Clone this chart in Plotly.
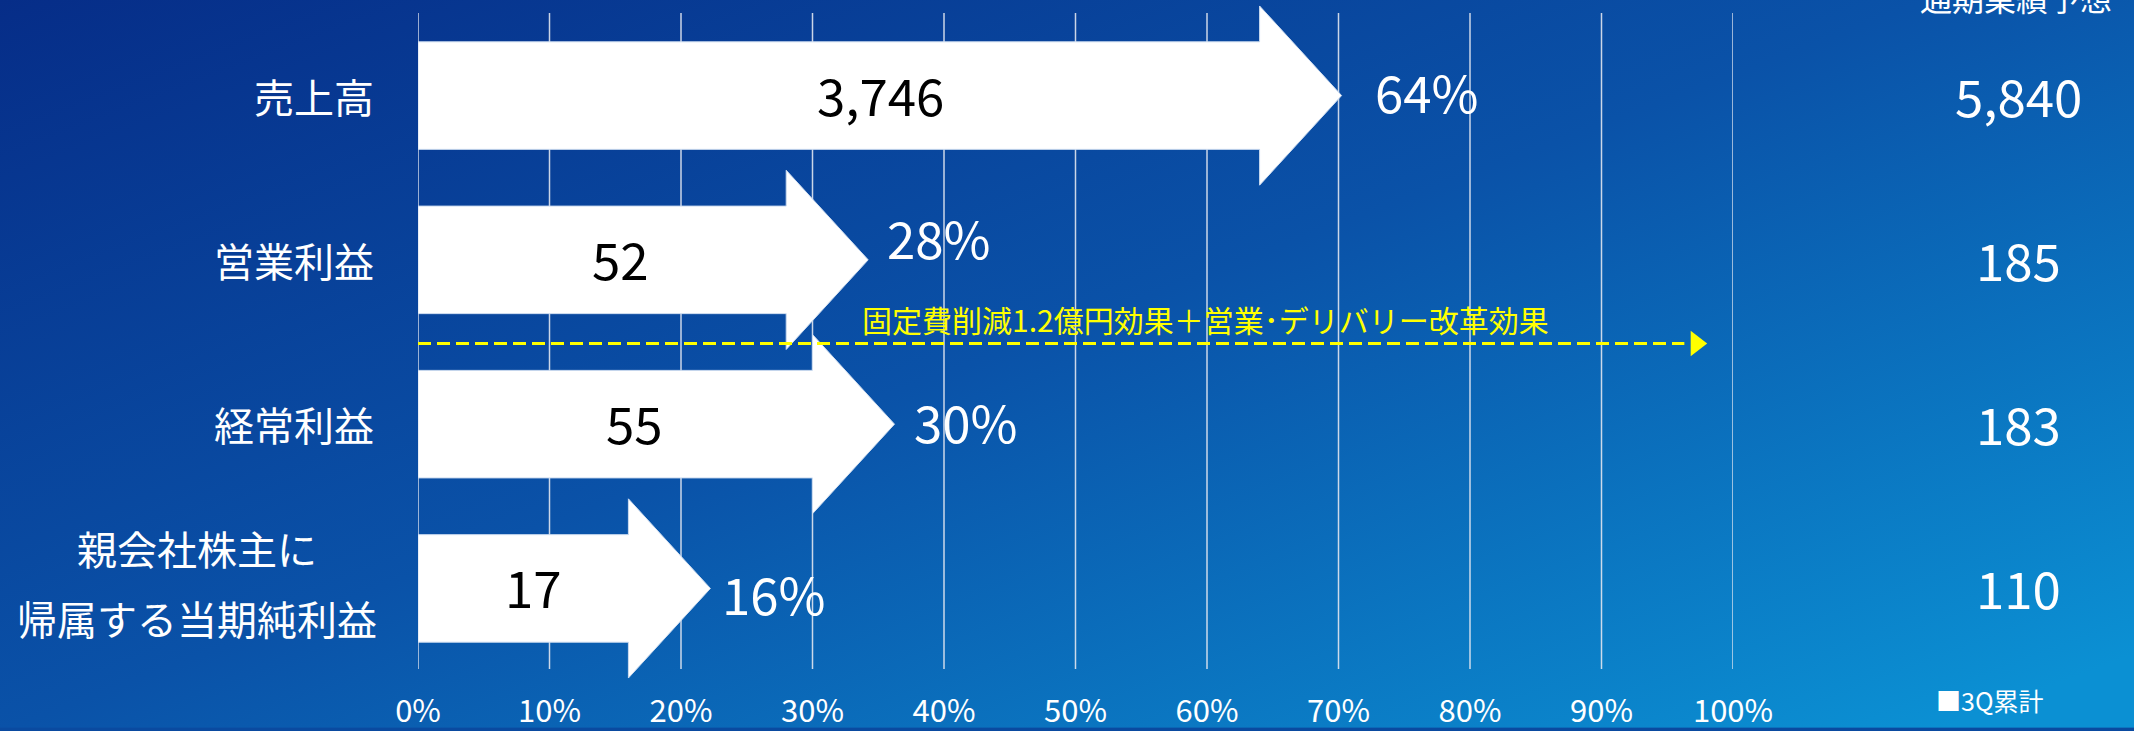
import base64
import plotly.graph_objects as go

# ---------------- data ----------------
categories = ["売上高", "営業利益", "経常利益", "親会社株主に<br>帰属する当期純利益"]
results_3q = ["3,746", "52", "55", "17"]          # 3Q累計 (百万円)
progress_pct = [64, 28, 30, 16]                    # 進捗率 (%)
forecast = ["5,840", "185", "183", "110"]          # 通期業績予想
tick_vals = [0, 10, 20, 30, 40, 50, 60, 70, 80, 90, 100]
tick_text = ["0%", "10%", "20%", "30%", "40%", "50%", "60%", "70%", "80%", "90%", "100%"]
note_text = "固定費削減1.2億円効果＋営業･デリバリー改革効果"
note_end_pct = 97.2
header_text = "通期業績予想"
legend_text = "■3Q累計"

# ---------------- layout constants ----------------
W, H = 2134, 731
ML, MR, MT, MB = 418, 401, 0, 40
PW = W - ML - MR
PH = H - MT - MB
ROW0 = 96.0      # px of first row centre
ROWS = 165.0     # px between rows
PX_PER_PCT = PW / 100.0

BODY_HALF = 54 / ROWS
HEAD_HALF = 90 / ROWS
HEAD_LEN = 82 / PX_PER_PCT

FONT = "Noto Sans CJK JP, Noto Sans, sans-serif"

def ypx(py):
    return (py - ROW0) / ROWS

def paper_x(px):
    return (px - ML) / PW

def paper_y(py):
    return 1 - (py - MT) / PH

fig = go.Figure()

# gridlines (below the arrows)
shapes = []
for v in tick_vals:
    shapes.append(dict(type="line", xref="x", yref="y", x0=v, x1=v,
                       y0=ypx(13), y1=ypx(672), layer="below",
                       line=dict(color="rgba(225,230,240,0.9)", width=1.5)))

# arrows
for i, v in enumerate(progress_pct):
    yc = i
    xs = [0, v, v, v + HEAD_LEN, v, v, 0, 0]
    ys = [yc - BODY_HALF, yc - BODY_HALF, yc - HEAD_HALF, yc,
          yc + HEAD_HALF, yc + BODY_HALF, yc + BODY_HALF, yc - BODY_HALF]
    fig.add_trace(go.Scatter(x=xs, y=ys, mode="lines", fill="toself",
                             fillcolor="white",
                             line=dict(color="rgba(205,220,240,1)", width=1),
                             hoverinfo="skip", showlegend=False))

# yellow dashed arrow
note_y = ypx(345)
fig.add_trace(go.Scatter(x=[0, note_end_pct - 0.9], y=[note_y, note_y], mode="lines",
                         line=dict(color="#ffff00", width=3, dash="13px,6px"),
                         hoverinfo="skip", showlegend=False))
fig.add_trace(go.Scatter(x=[note_end_pct], y=[note_y], mode="markers",
                         marker=dict(symbol="triangle-right", size=22, color="#ffff00",
                                     line=dict(width=0)),
                         hoverinfo="skip", showlegend=False))

ann = []
NUM_SIZE = 51
# value labels inside arrows
for i, (v, t) in enumerate(zip(progress_pct, results_3q)):
    ann.append(dict(x=v * 0.55, y=i, xref="x", yref="y", text=t,
                    showarrow=False, xanchor="center", yanchor="middle",
                    yshift=2,
                    font=dict(family=FONT, size=NUM_SIZE, color="black")))

# percent labels
pct_yshift = [5, 23, 3, -5]
pct_xshift = [14, 0, 0, -8]
for i, v in enumerate(progress_pct):
    ann.append(dict(x=v + HEAD_LEN + 1.3, y=i, xref="x", yref="y", text=f"{v}%",
                    showarrow=False, xanchor="left", yanchor="middle",
                    yshift=pct_yshift[i], xshift=pct_xshift[i],
                    font=dict(family=FONT, size=NUM_SIZE, color="white")))

# forecast column
for i, t in enumerate(forecast):
    ann.append(dict(x=paper_x(2018), y=i, xref="paper", yref="y", text=t,
                    showarrow=False, xanchor="center", yanchor="middle",
                    yshift=1,
                    font=dict(family=FONT, size=NUM_SIZE, color="white")))

# category labels
for i, c in enumerate(categories):
    lines = c.split("<br>")
    if len(lines) == 1:
        ann.append(dict(x=paper_x(376), y=i, xref="paper", yref="y", text=c,
                        showarrow=False, xanchor="right", yanchor="middle",
                        font=dict(family=FONT, size=40, color="white")))
    else:
        offs = [-41, 30]
        for j, ln in enumerate(lines):
            ann.append(dict(x=paper_x(197), y=i + offs[j] / ROWS, xref="paper", yref="y",
                            text=ln, showarrow=False, xanchor="center", yanchor="middle",
                            font=dict(family=FONT, size=40, color="white")))

# note text
ann.append(dict(x=59.9, y=ypx(320), xref="x", yref="y", text=note_text,
                showarrow=False, xanchor="center", yanchor="middle",
                font=dict(family=FONT, size=30, color="#ffff00")))

# header + legend
ann.append(dict(x=paper_x(2016), y=paper_y(-3), xref="paper", yref="paper",
                text=header_text, showarrow=False, xanchor="center", yanchor="middle",
                font=dict(family=FONT, size=32, color="white")))
ann.append(dict(x=paper_x(1989), y=paper_y(703), xref="paper", yref="paper",
                text=legend_text, showarrow=False, xanchor="center", yanchor="middle",
                font=dict(family=FONT, size=25, color="white")))

# gradient background as svg image
svg = f"""<svg xmlns='http://www.w3.org/2000/svg' width='{W}' height='{H}' viewBox='0 0 {W} {H}' preserveAspectRatio='none'>
<defs><linearGradient id='g' x1='0' y1='0' x2='1' y2='0.9'>
<stop offset='0' stop-color='#062d88'/>
<stop offset='0.5' stop-color='#0a52a8'/>
<stop offset='1' stop-color='#0b90d3'/>
</linearGradient></defs>
<rect width='{W}' height='{H}' fill='url(#g)'/></svg>"""
src = "data:image/svg+xml;base64," + base64.b64encode(svg.encode()).decode()

fig.update_layout(
    width=W, height=H,
    margin=dict(l=ML, r=MR, t=MT, b=MB, pad=0),
    paper_bgcolor="#0a4aa0",
    plot_bgcolor="rgba(0,0,0,0)",
    showlegend=False,
    shapes=shapes,
    annotations=ann,
    images=[dict(source=src, xref="paper", yref="paper",
                 x=-ML / PW, y=1 + MT / PH, sizex=W / PW, sizey=H / PH,
                 xanchor="left", yanchor="top", sizing="stretch", layer="below")],
    xaxis=dict(range=[0, 100], showgrid=False, zeroline=False, showline=False,
               tickmode="array", tickvals=tick_vals, ticktext=tick_text, ticks="",
               ticklabelstandoff=2,
               tickfont=dict(family=FONT, size=31, color="white"), fixedrange=True),
    yaxis=dict(range=[(H - MB - ROW0) / ROWS, -ROW0 / ROWS], showgrid=False,
               zeroline=False, showline=False, showticklabels=False, fixedrange=True),
)

fig.write_html("out.html", config={"displayModeBar": False},
               post_script="document.body.style.margin='0px';document.body.style.overflow='hidden';")
